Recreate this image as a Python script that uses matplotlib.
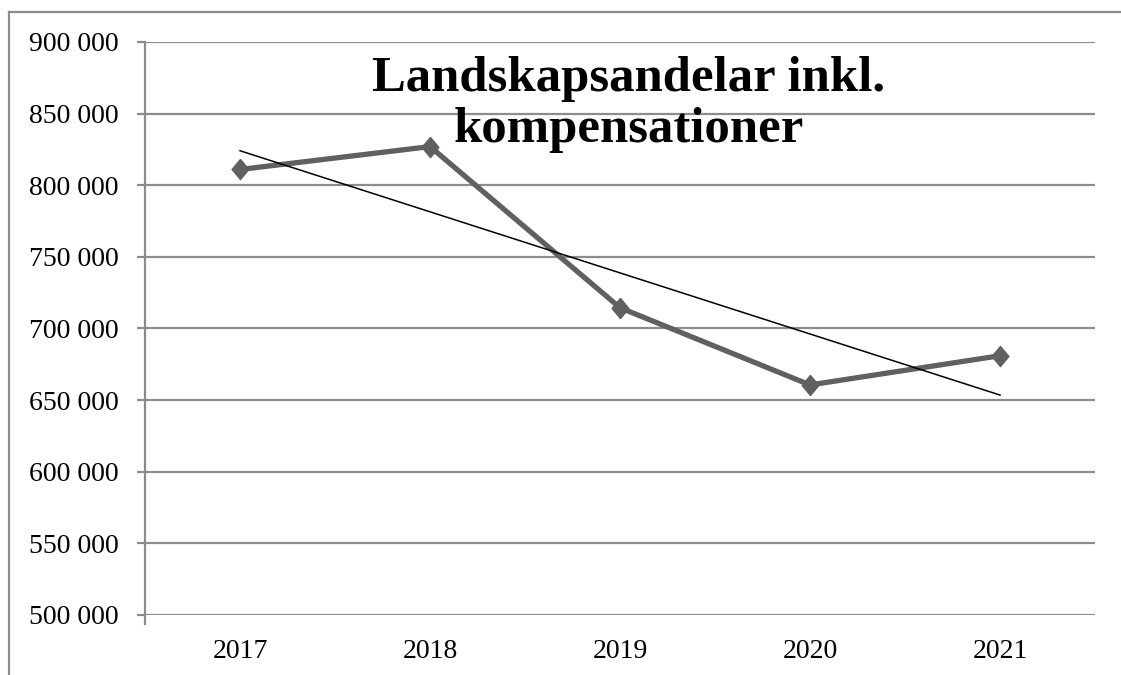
import numpy as np
import matplotlib
matplotlib.use('Agg')
import matplotlib.pyplot as plt
from matplotlib.ticker import FuncFormatter, MultipleLocator
from matplotlib.lines import Line2D

years = ['2017', '2018', '2019', '2020', '2021']
andelar = [811000, 827000, 714500, 660600, 681000]
title = 'Landskapsandelar inkl.\nkompensationer'

grid_color = '#8c8c8c'
line_color = '#606060'

fig = plt.figure(figsize=(11.21, 6.75), dpi=100)
ax = fig.add_axes([145 / 1121, 1 - 615 / 675, 950 / 1121, 573 / 675])

x = np.arange(len(years))
diamond = [(0, 1.2), (1, 0), (0, -1.2), (-1, 0), (0, 1.2)]
ax.plot(x, andelar, color=line_color, lw=3.8, marker=diamond, ms=14.5,
        markerfacecolor=line_color, markeredgecolor=line_color, zorder=3)

# linear trend over the series
k, m = np.polyfit(x, andelar, 1)
ax.plot(x, k * x + m, color='black', lw=1.1, zorder=4)

ax.set_xlim(-0.5, len(years) - 0.5)
ax.set_ylim(500000, 900000)
ax.yaxis.set_major_locator(MultipleLocator(50000))
ax.yaxis.set_major_formatter(FuncFormatter(lambda v, p: f'{int(v):,}'.replace(',', ' ')))
ax.set_xticks(x)
ax.set_xticklabels(years)

ax.grid(axis='y', color=grid_color, lw=1.6)
ax.set_axisbelow(True)
for s in ['top', 'right', 'bottom']:
    ax.spines[s].set_visible(False)
ax.spines['left'].set_color(grid_color)
ax.spines['left'].set_linewidth(1.6)

ax.tick_params(axis='y', length=6, width=1.6, color=grid_color, pad=13,
               labelsize=20, labelfontfamily='Liberation Serif')
ax.tick_params(axis='x', length=0, pad=17, labelsize=20, labelfontfamily='Liberation Serif')

# small stub below the left axis
ax.plot([-0.5, -0.5], [500000, 494000], color=grid_color, lw=1.6, clip_on=False)

fig.text(629 / 1121, 1 - 56 / 675, title, ha='center', va='top', fontsize=36.5,
         fontweight='bold', family='Liberation Serif', linespacing=1.13)

# outer frame
fig.add_artist(Line2D([9 / 1121, 1], [1 - 12 / 675, 1 - 12 / 675], color=grid_color, lw=1.6))
fig.add_artist(Line2D([9 / 1121, 9 / 1121], [0, 1 - 12 / 675], color=grid_color, lw=1.6))

fig.savefig('out.png', dpi=100, facecolor='white')
